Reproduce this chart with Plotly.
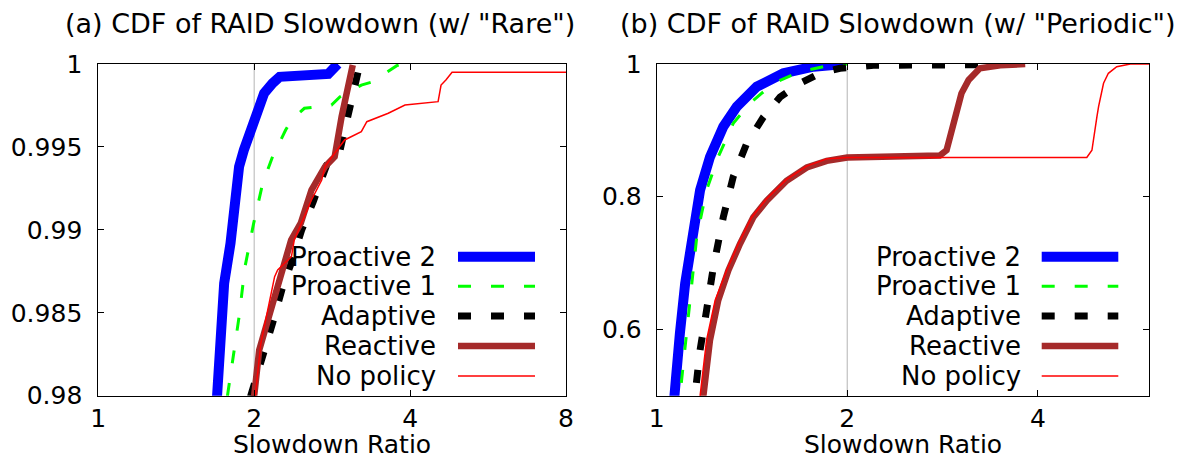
import math
import plotly.graph_objects as go

W, H = 1184, 461
FONT = "DejaVu Sans, Liberation Sans, Arial, sans-serif"
FS_TICK = 25
FS_TEXT = 26
FS_AXIS = 25
FS_TITLE = 27

# ---------------- data: panel (a) "Rare" ----------------
rare_p2_x = [1.68, 1.698, 1.71, 1.75, 1.80, 1.82, 1.857, 1.87, 1.91, 1.965, 2.03, 2.09, 2.17, 2.24, 2.78, 2.90]
rare_p2_y = [0.978, 0.98, 0.98275, 0.98678, 0.98919, 0.99039, 0.9924, 0.99381, 0.99481, 0.99582, 0.99682, 0.99823, 0.99884, 0.99923, 0.9994, 1.0]

rare_p1_x = [1.76, 1.776, 1.87, 1.92, 1.995, 2.077, 2.17, 2.30, 2.36, 2.50, 2.82, 2.93, 3.22, 3.37, 3.77, 3.85]
rare_p1_y = [0.978, 0.98, 0.98476, 0.98778, 0.99039, 0.99281, 0.99441, 0.99602, 0.99662, 0.99733, 0.99753, 0.99803, 0.99873, 0.99891, 0.9999, 1.0]

rare_ad_x = [1.95, 1.97, 2.17, 2.27, 2.357, 2.47, 2.60, 2.76, 2.93, 3.06, 3.18, 3.2]
rare_ad_y = [0.978, 0.98, 0.98437, 0.98657, 0.98798, 0.98999, 0.9917, 0.99391, 0.99481, 0.99763, 0.99964, 1.0]

rare_re_x = [1.99, 2.0, 2.045, 2.155, 2.25, 2.357, 2.46, 2.58, 2.74, 2.86, 2.95, 3.01, 3.10]
rare_re_y = [0.978, 0.98, 0.98275, 0.98517, 0.98718, 0.98939, 0.99040, 0.9924, 0.99381, 0.99441, 0.99682, 0.99823, 0.99994]

rare_np_x = [2.0, 2.01, 2.06, 2.19, 2.22, 2.36, 2.39, 2.50, 2.58, 2.70, 2.74, 2.86, 2.99, 3.22, 3.30, 3.63, 3.91, 4.53, 4.59, 4.69, 4.82, 8.5]
rare_np_y = [0.978, 0.98, 0.98316, 0.98718, 0.98758, 0.98838, 0.98939, 0.99079, 0.9918, 0.993, 0.99381, 0.99462, 0.99542, 0.99592, 0.99652, 0.99703, 0.99753, 0.99773, 0.99873, 0.99904, 0.9995, 0.9995]

# ---------------- data: panel (b) "Periodic" ----------------
per_p2_x = [1.06, 1.069, 1.088, 1.109, 1.136, 1.171, 1.214, 1.274, 1.338, 1.439, 1.585, 1.768, 1.98]
per_p2_y = [0.47, 0.5, 0.594, 0.669, 0.740, 0.810, 0.860, 0.9055, 0.9357, 0.9658, 0.986, 0.996, 1.0]

per_p1_x = [1.08, 1.088, 1.115, 1.136, 1.157, 1.199, 1.251, 1.321, 1.404, 1.529, 1.685, 1.856, 2.0]
per_p1_y = [0.47, 0.5, 0.594, 0.669, 0.740, 0.810, 0.860, 0.9105, 0.9407, 0.9709, 0.9884, 0.997, 1.0]

per_ad_x = [1.14, 1.149, 1.171, 1.199, 1.229, 1.274, 1.321, 1.387, 1.474, 1.566, 1.685, 1.811, 1.948, 2.2, 3.25]
per_ad_y = [0.47, 0.5, 0.569, 0.629, 0.694, 0.769, 0.830, 0.880, 0.920, 0.950, 0.9709, 0.986, 0.9935, 0.998, 0.999]

per_re_x = [1.175, 1.185, 1.214, 1.251, 1.298, 1.354, 1.421, 1.492, 1.604, 1.726, 1.856, 2.0, 2.80, 2.87, 2.92, 2.98, 3.03, 3.11, 3.24, 3.49, 3.82]
per_re_y = [0.47, 0.5, 0.584, 0.644, 0.689, 0.729, 0.769, 0.794, 0.824, 0.844, 0.854, 0.859, 0.862, 0.870, 0.8955, 0.931, 0.9558, 0.976, 0.9935, 0.998, 1.0]

per_np_x = [1.165, 1.171, 1.199, 1.237, 1.29, 1.346, 1.413, 1.492, 1.604, 1.726, 1.856, 2.0, 4.78, 4.87, 4.96, 4.99, 5.08, 5.17, 5.33, 5.60, 6.2]
per_np_y = [0.47, 0.5, 0.584, 0.644, 0.689, 0.729, 0.769, 0.797, 0.826, 0.846, 0.857, 0.859, 0.859, 0.870, 0.921, 0.936, 0.971, 0.986, 0.996, 1.0, 1.0]

series_names = ["Proactive 2", "Proactive 1", "Adaptive", "Reactive", "No policy"]
series_colors = ["#0000ff", "#00ff00", "#000000", "#a52a2a", "#ff0000"]
series_widths = [10, 3, 7, 6.5, 1.5]
series_dash = ["solid", "13px,20px", "13px,20px", "solid", "solid"]

rare = [(rare_p2_x, rare_p2_y), (rare_p1_x, rare_p1_y), (rare_ad_x, rare_ad_y),
        (rare_re_x, rare_re_y), (rare_np_x, rare_np_y)]
per = [(per_p2_x, per_p2_y), (per_p1_x, per_p1_y), (per_ad_x, per_ad_y),
       (per_re_x, per_re_y), (per_np_x, per_np_y)]

titles = ['(a) CDF of RAID Slowdown (w/ "Rare")', '(b) CDF of RAID Slowdown (w/ "Periodic")']
x_title = "Slowdown Ratio"
x_ticks_a = [1, 2, 4, 8]
x_ticks_b = [1, 2, 4]
y_ticks_a = [0.98, 0.985, 0.99, 0.995, 1.0]
y_ticklabels_a = ["0.98", "0.985", "0.99", "0.995", "1"]
y_ticks_b = [0.6, 0.8, 1.0]
y_ticklabels_b = ["0.6", "0.8", "1"]

fig = go.Figure()

# reference line at x = 2 (light grey)
fig.add_trace(go.Scatter(x=[2, 2], y=[0.97, 1.01], mode="lines", line=dict(color="#c0c0c0", width=1.2),
                         showlegend=False, hoverinfo="skip", xaxis="x", yaxis="y"))
fig.add_trace(go.Scatter(x=[2, 2], y=[0.4, 1.1], mode="lines", line=dict(color="#c0c0c0", width=1.2),
                         showlegend=False, hoverinfo="skip", xaxis="x2", yaxis="y2"))

for i, (xs, ys) in enumerate(rare):
    fig.add_trace(go.Scatter(x=xs, y=ys, mode="lines", name=series_names[i],
                             line=dict(color=series_colors[i], width=series_widths[i], dash=series_dash[i]),
                             showlegend=False, xaxis="x", yaxis="y"))
for i, (xs, ys) in enumerate(per):
    fig.add_trace(go.Scatter(x=xs, y=ys, mode="lines", name=series_names[i],
                             line=dict(color=series_colors[i], width=series_widths[i], dash=series_dash[i]),
                             showlegend=False, xaxis="x2", yaxis="y2"))

# geometry (pixels)
ax_a = (98.3, 566.0)
ax_b = (656.7, 1149.3)
top_px, bot_px = 64.0, 395.7

def px2x(p):
    return p / W

def px2y(p):
    return 1 - p / H

tickfont = dict(family=FONT, size=FS_TICK, color="black")
textfont = dict(family=FONT, size=FS_TEXT, color="black")
common_axis = dict(showline=True, linecolor="black", linewidth=1, mirror="ticks", ticks="inside",
                   ticklen=6, tickcolor="black", tickwidth=1, showgrid=False, zeroline=False,
                   tickfont=tickfont, automargin=False)

fig.update_layout(
    template="none",
    width=W, height=H, margin=dict(l=0, r=0, t=0, b=0, autoexpand=False),
    paper_bgcolor="white", plot_bgcolor="white", showlegend=False,
    xaxis=dict(domain=[px2x(ax_a[0]), px2x(ax_a[1])], type="log", range=[0, math.log10(8)],
               tickvals=x_ticks_a, ticktext=[str(v) for v in x_ticks_a], ticklabelstandoff=0,
               anchor="y", **common_axis),
    yaxis=dict(domain=[px2y(bot_px), px2y(top_px)], range=[0.98, 1.0],
               tickvals=y_ticks_a, ticktext=y_ticklabels_a, anchor="x", ticklabelstandoff=10, **common_axis),
    xaxis2=dict(domain=[px2x(ax_b[0]), px2x(ax_b[1])], type="log", range=[0, math.log10(6)],
                tickvals=x_ticks_b, ticktext=[str(v) for v in x_ticks_b], ticklabelstandoff=0,
                anchor="y2", **common_axis),
    yaxis2=dict(domain=[px2y(bot_px), px2y(top_px)], range=[0.5, 1.0],
                tickvals=y_ticks_b, ticktext=y_ticklabels_b, anchor="x2", ticklabelstandoff=9, **common_axis),
)

annotations = []
# titles
for cx, t in zip([320, 898], titles):
    annotations.append(dict(text=t, x=px2x(cx), y=px2y(23), xref="paper", yref="paper",
                            xanchor="center", yanchor="middle", showarrow=False,
                            font=dict(family=FONT, size=FS_TITLE, color="black")))
# x-axis titles
for xr in ["x domain", "x2 domain"]:
    annotations.append(dict(text=x_title, x=0.5, y=0.0, xref=xr, yref="paper",
                            xanchor="center", yanchor="bottom", showarrow=False,
                            font=dict(family=FONT, size=FS_AXIS, color="black")))

# manual legends (text right-aligned, sample to the right, gnuplot style)
shapes = []
legend_rows = [256.7, 286.3, 316.0, 346.0, 376.0]
for text_right, s0, s1 in [(438, 458, 535), (1022.7, 1041.7, 1118.3)]:
    for i, ry in enumerate(legend_rows):
        annotations.append(dict(text=series_names[i], x=px2x(text_right), y=px2y(ry), xref="paper", yref="paper",
                                xanchor="right", yanchor="middle", showarrow=False,
                                font=textfont))
        shapes.append(dict(type="line", xref="paper", yref="paper", x0=px2x(s0), x1=px2x(s1),
                           y0=px2y(ry), y1=px2y(ry),
                           line=dict(color=series_colors[i], width=series_widths[i], dash=series_dash[i])))

fig.update_layout(annotations=annotations, shapes=shapes)

fig.write_html("out.html")
